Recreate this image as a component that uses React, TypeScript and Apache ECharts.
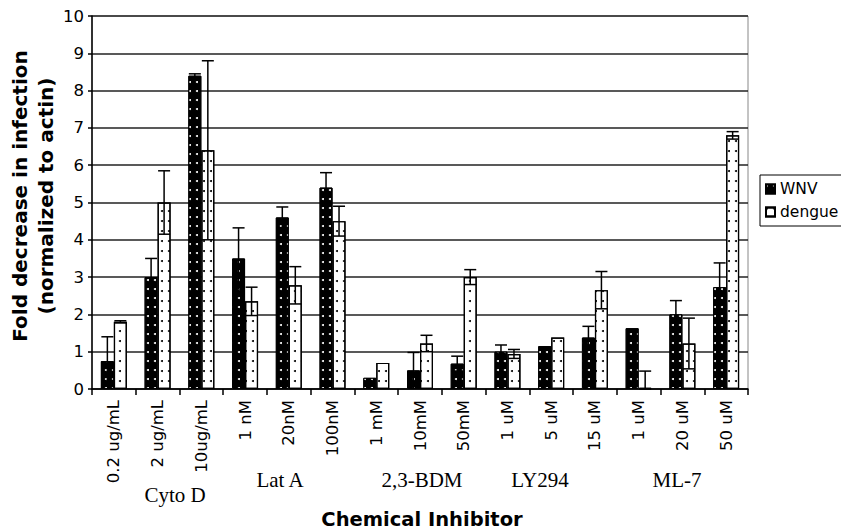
import React, { useEffect, useRef } from "react";
import * as echarts from "echarts";

const categories = [
  "0.2 ug/mL", "2 ug/mL", "10ug/mL",
  "1 nM", "20nM", "100nM",
  "1 mM", "10mM", "50mM",
  "1 uM", "5 uM", "15 uM",
  "1 uM", "20 uM", "50 uM",
];
const wnv = [0.75, 3.0, 8.4, 3.5, 4.6, 5.4, 0.3, 0.5, 0.68, 1.0, 1.15, 1.38, 1.63, 2.0, 2.73];
const wnvErr = [0.65, 0.5, 0.05, 0.82, 0.28, 0.4, 0, 0.48, 0.2, 0.18, 0, 0.3, 0, 0.37, 0.65];
const dengue = [1.8, 5.0, 6.4, 2.35, 2.78, 4.5, 0.7, 1.22, 3.0, 0.94, 1.38, 2.65, 0.03, 1.22, 6.8];
const dengueErr = [0.03, 0.85, 2.4, 0.38, 0.5, 0.4, 0, 0.22, 0.2, 0.12, 0, 0.5, 0.45, 0.68, 0.1];
const groupLabels = ["Cyto D", "Lat A", "2,3-BDM", "LY294", "ML-7"];
const yTicks = [0, 1, 2, 3, 4, 5, 6, 7, 8, 9, 10];

const SANS = '"DejaVu Sans", Verdana, sans-serif';
const SERIF = '"Liberation Serif", "Times New Roman", serif';
const BAR_W = 13;

function errSeries(name: string, vals: number[], errs: number[], offset: number) {
  return {
    name,
    type: "custom",
    z: 10,
    silent: true,
    encode: { x: 0, y: 1 },
    data: vals.map((v, i) => [i, v, errs[i]]),
    renderItem: (params: any, api: any) => {
      const i = api.value(0);
      const v = api.value(1);
      const e = api.value(2);
      if (!e) return { type: "group", children: [] };
      const top = api.coord([i, v + e]);
      const bot = api.coord([i, Math.max(0, v - e)]);
      const x = top[0] + offset;
      const hw = 6;
      const st = { stroke: "#000", lineWidth: 1.5 };
      return {
        type: "group",
        children: [
          { type: "line", shape: { x1: x, y1: top[1], x2: x, y2: bot[1] }, style: st },
          { type: "line", shape: { x1: x - hw, y1: top[1], x2: x + hw, y2: top[1] }, style: st },
          { type: "line", shape: { x1: x - hw, y1: bot[1], x2: x + hw, y2: bot[1] }, style: st },
        ],
      };
    },
  };
}

export default function App() {
  const ref = useRef<HTMLDivElement>(null);
  useEffect(() => {
    if (!ref.current) return;
    const chart = echarts.init(ref.current, null, { renderer: "svg" });
    const glX = [175, 280, 422, 540, 677];
    const glY = [495, 480, 480, 480, 480];
    chart.setOption({
      animation: false,
      backgroundColor: "#fff",
      grid: { left: 92, right: 93, top: 16, bottom: 143, show: true, borderColor: "#888", borderWidth: 1, backgroundColor: "transparent" },
      legend: {
        data: ["WNV", "dengue"],
        orient: "vertical",
        left: 760,
        top: 175,
        itemWidth: 9,
        itemHeight: 9,
        itemGap: 7,
        padding: [6, 5, 6, 5],
        borderColor: "#000",
        borderWidth: 1,
        icon: "rect",
        textStyle: { color: "#000", fontFamily: SANS, fontSize: 15.5 },
      },
      xAxis: {
        type: "category",
        data: categories,
        axisLine: { lineStyle: { color: "#000", width: 1.5 } },
        axisTick: { show: true, length: 6, lineStyle: { color: "#000", width: 1.5 } },
        axisLabel: { rotate: 90, color: "#000", fontFamily: SANS, fontSize: 16.5, margin: 11, interval: 0 },
      },
      yAxis: {
        type: "value",
        min: 0,
        max: yTicks[yTicks.length - 1],
        interval: 1,
        axisLine: { show: true, lineStyle: { color: "#000", width: 1.5 } },
        axisTick: { show: true, length: 4, lineStyle: { color: "#000", width: 1.5 } },
        axisLabel: { color: "#000", fontFamily: SANS, fontSize: 16.5, margin: 8 },
        splitLine: { lineStyle: { color: "#222", width: 1.5 } },
      },
      series: [
        {
          name: "WNV",
          type: "bar",
          data: wnv,
          barWidth: BAR_W,
          barGap: "0%",
          itemStyle: {
            color: "#000",
            borderColor: "#000",
            borderWidth: 1,
            decal: { symbol: "circle", symbolSize: 1, color: "#fff", dashArrayX: [2, 5], dashArrayY: [2, 7] },
          },
        },
        {
          name: "dengue",
          type: "bar",
          data: dengue,
          barWidth: BAR_W,
          barGap: "0%",
          itemStyle: {
            color: "#fff",
            borderColor: "#000",
            borderWidth: 1.2,
            decal: { symbol: "circle", symbolSize: 1, color: "#000", dashArrayX: [2, 5], dashArrayY: [2, 8] },
          },
        },
        errSeries("WNV err", wnv, wnvErr, -BAR_W / 2),
        errSeries("dengue err", dengue, dengueErr, BAR_W / 2),
      ],
      graphic: [
        {
          type: "text",
          x: 33,
          y: 196,
          rotation: Math.PI / 2,
          style: {
            text: "Fold decrease in infection\n(normalized to actin)",
            textAlign: "center",
            textVerticalAlign: "middle",
            font: `bold 20px ${SANS}`,
            lineHeight: 26,
            fill: "#000",
          },
        },
        {
          type: "text",
          x: 422,
          y: 519,
          style: {
            text: "Chemical Inhibitor",
            textAlign: "center",
            textVerticalAlign: "middle",
            font: `bold 19.5px ${SANS}`,
            fill: "#000",
          },
        },
        ...groupLabels.map((t, k) => ({
          type: "text",
          x: glX[k],
          y: glY[k],
          style: {
            text: t,
            textAlign: "center",
            textVerticalAlign: "middle",
            font: `21px ${SERIF}`,
            fill: "#000",
          },
        })),
      ],
    });
    return () => chart.dispose();
  }, []);
  return <div ref={ref} style={{ width: 841, height: 532, position: "absolute", left: 0, top: 0 }} />;
}
